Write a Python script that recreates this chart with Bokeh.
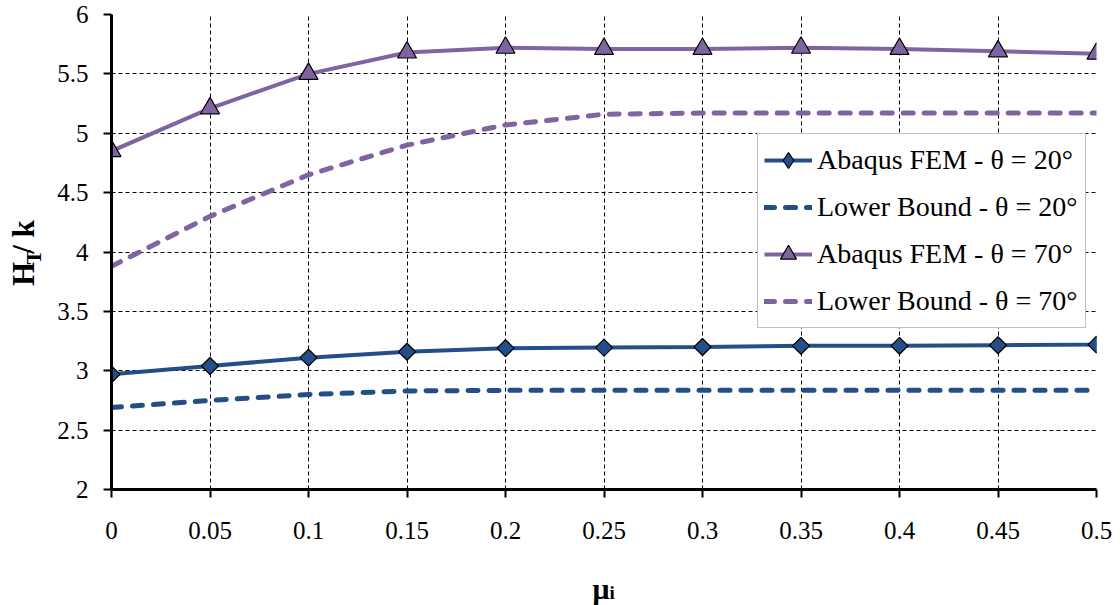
import math
from bokeh.plotting import figure
from bokeh.models import Range1d, FixedTicker, Legend, LegendItem, Label
from bokeh.layouts import row, column
from bokeh.embed import file_html
from bokeh.resources import INLINE

# ---------------- data ----------------
mu = [0.0, 0.05, 0.1, 0.15, 0.2, 0.25, 0.3, 0.35, 0.4, 0.45, 0.5]
fem_20 = [2.97, 3.04, 3.11, 3.16, 3.19, 3.195, 3.20, 3.21, 3.21, 3.215, 3.22]
lb_20 = [2.69, 2.75, 2.80, 2.83, 2.835, 2.835, 2.835, 2.835, 2.835, 2.835, 2.835]
fem_70 = [4.85, 5.21, 5.50, 5.68, 5.72, 5.71, 5.71, 5.72, 5.71, 5.69, 5.67]
lb_70 = [3.88, 4.30, 4.65, 4.90, 5.07, 5.16, 5.17, 5.17, 5.17, 5.17, 5.17]

x_ticks = [0.0, 0.05, 0.1, 0.15, 0.2, 0.25, 0.3, 0.35, 0.4, 0.45, 0.5]
x_tick_labels = ["0", "0.05", "0.1", "0.15", "0.2", "0.25", "0.3", "0.35", "0.4", "0.45", "0.5"]
y_ticks = [2, 2.5, 3, 3.5, 4, 4.5, 5, 5.5, 6]
y_tick_labels = ["2", "2.5", "3", "3.5", "4", "4.5", "5", "5.5", "6"]

series_names = ["Abaqus FEM - θ = 20°", "Lower Bound - θ = 20°",
                "Abaqus FEM - θ = 70°", "Lower Bound - θ = 70°"]

FONT = "Liberation Serif"
BLUE = "#234E87"
PURPLE = "#8064A2"

# ---------------- layout sizes ----------------
W, H = 1120, 605
YT_W = 45            # strip holding the y-axis title
XT_H = 50            # strip holding the x-axis title
MAIN_W, MAIN_H = W - YT_W, H - XT_H
LEFT, RIGHT, TOP, BOTTOM = 111 - YT_W, 24, 14, MAIN_H - 489

p = figure(width=MAIN_W, height=MAIN_H, x_range=Range1d(0, 0.5), y_range=Range1d(2, 6),
           output_backend="svg", toolbar_location=None,
           min_border_left=LEFT, min_border_right=RIGHT,
           min_border_top=TOP, min_border_bottom=BOTTOM)
p.outline_line_color = None
p.background_fill_color = "white"
p.border_fill_color = "white"

# axes
p.xaxis.ticker = FixedTicker(ticks=x_ticks)
p.yaxis.ticker = FixedTicker(ticks=y_ticks)
p.xaxis.major_label_overrides = {t: l for t, l in zip(x_ticks, x_tick_labels)}
p.yaxis.major_label_overrides = {t: l for t, l in zip(y_ticks, y_tick_labels)}
for ax in (p.xaxis, p.yaxis):
    ax.axis_line_color = "black"
    ax.axis_line_width = 3
    ax.major_tick_line_color = "black"
    ax.major_tick_line_width = 2
    ax.major_tick_out = 8
    ax.major_tick_in = 0
    ax.minor_tick_line_color = None
    ax.major_label_text_font = FONT
    ax.major_label_text_font_size = "25px"
    ax.major_label_text_color = "black"
p.xaxis.major_label_standoff = 24
p.yaxis.major_label_standoff = 15

for g in (p.xgrid, p.ygrid):
    g.grid_line_color = "black"
    g.grid_line_width = 1
    g.grid_line_dash = "4 3"

# series
r_fem20_l = p.line(mu, fem_20, line_color=BLUE, line_width=4)
# legend key diamond (legend glyphs are never rotated); hidden under the plotted markers
r_fem20_key = p.scatter(mu, fem_20, marker="diamond", size=16,
                        fill_color=BLUE, line_color="black", line_width=1.2)
r_fem20_m = p.scatter(mu, fem_20, marker="square", angle=math.pi / 4, size=12,
                      fill_color=BLUE, line_color="black", line_width=1.2)
r_lb20 = p.line(mu, lb_20, line_color=BLUE, line_width=5, line_dash="10 11", line_cap="round")
r_fem70_l = p.line(mu, fem_70, line_color=PURPLE, line_width=4)
r_fem70_m = p.scatter(mu, fem_70, marker="triangle", size=19,
                      fill_color=PURPLE, line_color="black", line_width=1.2)
r_lb70 = p.line(mu, lb_70, line_color=PURPLE, line_width=5, line_dash="10 11", line_cap="round")

legend = Legend(items=[
    LegendItem(label=series_names[0], renderers=[r_fem20_l, r_fem20_key]),
    LegendItem(label=series_names[1], renderers=[r_lb20]),
    LegendItem(label=series_names[2], renderers=[r_fem70_l, r_fem70_m]),
    LegendItem(label=series_names[3], renderers=[r_lb70]),
], location=(646, 161))
legend.label_text_font = FONT
legend.label_text_font_size = "28px"
legend.label_text_color = "black"
legend.glyph_width = 48
legend.glyph_height = 40
legend.label_height = 40
legend.label_width = 262
legend.spacing = 7
legend.padding = 6
legend.margin = 0
legend.label_standoff = 5
legend.border_line_color = "#808080"
legend.border_line_width = 1.5
legend.background_fill_color = "white"
legend.background_fill_alpha = 1.0
p.add_layout(legend, "center")


# ---------------- axis titles (own strips, so sub-scripts are possible) ----------------
def strip(w, h):
    f = figure(width=w, height=h, x_range=Range1d(0, w), y_range=Range1d(0, h),
               output_backend="svg", toolbar_location=None, min_border=0,
               x_axis_location=None, y_axis_location=None, title=None)
    f.grid.visible = False
    f.outline_line_color = None
    f.background_fill_color = "white"
    f.border_fill_color = "white"
    return f


def lab(f, x, y, text, size, angle=0.0, align="left", baseline="alphabetic"):
    f.add_layout(Label(x=x, y=f.height - y, text=text, angle=angle,
                       text_font=FONT, text_font_size=size, text_font_style="bold",
                       text_color="black", text_align=align, text_baseline=baseline))


ytitle = strip(YT_W, MAIN_H)
ang = math.pi / 2
lab(ytitle, 22.5, 303, "H", "31px", ang, "center", "middle")
lab(ytitle, 32.5, 283.5, "T", "22px", ang, "center", "middle")
lab(ytitle, 22.5, 255.5, " / k", "31px", ang, "center", "middle")

xtitle = strip(W, XT_H)
lab(xtitle, 592, 588 - MAIN_H, "μ", "30px")
lab(xtitle, 609, 592 - MAIN_H, "i", "19px")

layout = column(row(ytitle, p), xtitle)
open("out.html", "w").write(file_html(layout, INLINE))
